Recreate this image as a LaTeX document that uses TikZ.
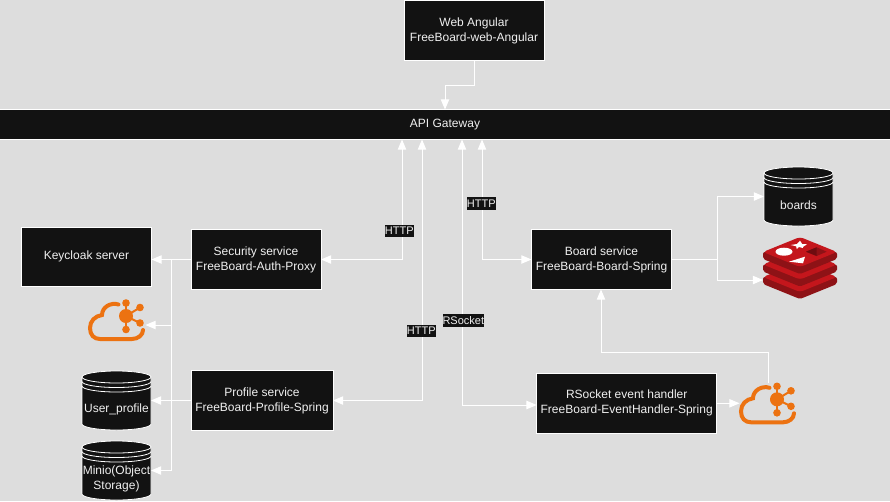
\documentclass[tikz,border=0pt]{standalone}
\usepackage{fontspec}
\setmainfont{Liberation Sans}
\usetikzlibrary{arrows}
\usetikzlibrary{calc}

\definecolor{boxfill}{HTML}{121212}
\definecolor{canvas}{HTML}{DDDDDD}
\definecolor{kafkaorange}{HTML}{EC7211}
\definecolor{redislight}{HTML}{C4161C}
\definecolor{redisdark}{HTML}{8E1216}
\definecolor{redisdeep}{HTML}{6E0C10}

\tikzset{
  box/.style={draw=white, line width=.75pt, fill=boxfill, text=white!94!black, align=center, inner sep=0pt, outer sep=0pt, font=\fontsize{9}{11.25}\selectfont},
  linklabel/.style={fill=boxfill, text=white!94!black, inner sep=0pt, minimum height=12.7*.75pt, font=\fontsize{8.25}{10}\selectfont},
  link/.style={draw=white, line width=.75pt, >={triangle 45}},
  icon/.style={inner sep=0pt, outer sep=0pt},
  storetext/.style={text=white!94!black, align=center, inner sep=0pt, font=\fontsize{9}{11.25}\selectfont},
}

% datastore: name, centre, label
\newcommand{\datastore}[3]{
  \begin{scope}[shift={(#2)}, draw=white, line width=.6pt]
    \filldraw[fill=boxfill] (-34.5,-23.5) arc[start angle=180, end angle=360, x radius=34.5, y radius=6] -- (34.5,23.5) arc[start angle=0, end angle=180, x radius=34.5, y radius=6] -- cycle;
    \foreach \off in {0,4.5,9} {
      \draw (-34.5,-23.5+\off) arc[start angle=180, end angle=0, x radius=34.5, y radius=6];
    }
  \end{scope}
  \node[icon, minimum width=69*.75pt, minimum height=59*.75pt, label={[storetext, yshift=-8.5*.75pt]center:#3}] (#1) at (#2) {};
}

% kafka cloud: name, hub centre
\newcommand{\kafkacloud}[2]{
  \begin{scope}[shift={(#2)}, kafkaorange]
    \draw[line width=3pt, line cap=round] (-7.5,-11.5) .. controls (-15,-14) and (-24,-9) .. (-24,-1) .. controls (-31,0) and (-36,5) .. (-36,12) .. controls (-36,19) and (-32,23) .. (-26,23) -- (6,23) .. controls (12,23) and (17,19) .. (17,14);
    \foreach \sx/\sy in {0/-13, 14/-8.5, 14/7, 0/13.5} {
      \draw[line width=1.5pt] (0,0) -- (\sx,\sy);
      \fill (\sx,\sy) circle[radius=3.8];
    }
    \fill (0,0) circle[radius=7];
  \end{scope}
  \node[icon, minimum width=57*.75pt, minimum height=42*.75pt] (#1) at ($(#2)+(-9,4)$) {};
}

\begin{document}
\begin{tikzpicture}[x=.75pt, y=-.75pt]

  \fill[canvas] (0,0) rectangle (890,501);
  \useasboundingbox (0,0) rectangle (890,501);

  % Define nodes
  \node[box, minimum width=140*.75pt, minimum height=60*.75pt] (web) at (474,30.5) {Web Angular\\FreeBoard-web-Angular};
  \node[box, minimum width=900*.75pt, minimum height=30*.75pt] (gateway) at (445,124.5) {API Gateway};
  \node[box, minimum width=130*.75pt, minimum height=59*.75pt] (keycloak) at (86.5,256.5) {Keycloak server};
  \node[box, minimum width=130*.75pt, minimum height=60*.75pt] (security) at (256,259.5) {Security service\\FreeBoard-Auth-Proxy};
  \node[box, minimum width=142*.75pt, minimum height=60*.75pt] (profile) at (262,400.5) {Profile service\\FreeBoard-Profile-Spring};
  \node[box, minimum width=140*.75pt, minimum height=60*.75pt] (board) at (601.5,259.5) {Board service\\FreeBoard-Board-Spring};
  \node[box, minimum width=180*.75pt, minimum height=60*.75pt] (rsocket) at (626.7,403.3) {RSocket event handler\\FreeBoard-EventHandler-Spring};

  \datastore{boards}{798.5,196.5}{boards}
  \datastore{userprofile}{116.5,400.5}{User\_profile}
  \datastore{minio}{116.5,470.5}{Minio(Object\\Storage)}
  \kafkacloud{kafkaleft}{126,316}
  \kafkacloud{kafkaright}{777,399.3}

  % Redis stack
  \begin{scope}[shift={(800,237)}]
    \foreach \dy in {25,12.5,0} {
      \fill[redisdark, rounded corners=1.5pt] (-37,15+\dy) -- (-37,22+\dy) -- (0,37+\dy) -- (37,22+\dy) -- (37,15+\dy) -- cycle;
      \fill[redislight, rounded corners=2.5pt] (0,\dy) -- (37,15+\dy) -- (0,30+\dy) -- (-37,15+\dy) -- cycle;
    }
    \fill[white] (-16,14.7) ellipse[x radius=8.5, y radius=4];
    \fill[white] (0,3.7) -- (2.2,7) -- (7,7.3) -- (3.5,9.5) -- (2.7,11) -- (-1,10) -- (-3.3,12) -- (-3.8,9.3) -- (-9.3,8) -- (-3,7) -- cycle;
    \fill[white] (-11,24.7) -- (5,19.7) -- (3,26.3) -- cycle;
    \fill[redisdark] (6,14.7) -- (16.7,10.3) -- (26.7,14.7) -- (16.7,19) -- cycle;
    \fill[redisdeep] (6,14.7) -- (16.7,10.3) -- (16.7,19) -- cycle;
  \end{scope}
  \node[icon, minimum width=74*.75pt, minimum height=62*.75pt] (redis) at (800,268) {};

  % Turning points
  \coordinate (webturn) at (474,85);
  \coordinate (gatewayin) at (445,85);
  \coordinate (authrail) at (171,259.5);
  \coordinate (profilerail) at (171,400.5);
  \coordinate (cloudrail) at (171,325);
  \coordinate (miniorail) at (171,470.5);
  \coordinate (authup) at (402,259.5);
  \coordinate (profileup) at (422,400.5);
  \coordinate (eventup) at (462,405);
  \coordinate (boardup) at (482,259.5);
  \coordinate (storerail) at (717,259.5);
  \coordinate (boardsrail) at (717,196.5);
  \coordinate (redisrail) at (717,280);
  \coordinate (cloudout) at (768,383);
  \coordinate (boardturn) at (601,352);

  % Connect the nodes
  \draw[link, ->] (web.south -| webturn) -- (webturn) -- (gatewayin) -- (gatewayin |- gateway.north);
  \draw[link, ->] (security.west) -- (security.west -| keycloak.east);
  \draw[link, ->] (authrail) -- (cloudrail) -- (cloudrail -| kafkaleft.east);
  \draw[link, ->] (profile.west) -- (userprofile.east);
  \draw[link] (profilerail) -- (cloudrail);
  \draw[link, ->] (profilerail) -- (miniorail) -- (minio.east);
  \draw[link, <->] (security.east) -- (authup) -- (authup |- gateway.south);
  \draw[link, <->] (profile.east) -- (profileup) -- (profileup |- gateway.south);
  \draw[link, <->] (eventup -| rsocket.west) -- (eventup) -- (eventup |- gateway.south);
  \draw[link, <->] (board.west) -- (boardup) -- (boardup |- gateway.south);
  \draw[link] (board.east) -- (storerail);
  \draw[link, ->] (storerail) -- (boardsrail) -- (boards.west);
  \draw[link, ->] (storerail) -- (redisrail) -- (redisrail -| redis.west);
  \draw[link, ->] (rsocket.east) -- (rsocket.east -| kafkaright.west);
  \draw[link, ->] (cloudout) -- (cloudout |- boardturn) -- (boardturn) -- (boardturn |- board.south);

  % Connector labels
  \node[linklabel] (authhttp) at (399.3,231) {HTTP};
  \node[linklabel] (boardhttp) at (481.3,203.3) {HTTP};
  \node[linklabel] (profilehttp) at (421.3,331) {HTTP};
  \node[linklabel] (eventsocket) at (463.3,320.3) {RSocket};

\end{tikzpicture}
\end{document}
